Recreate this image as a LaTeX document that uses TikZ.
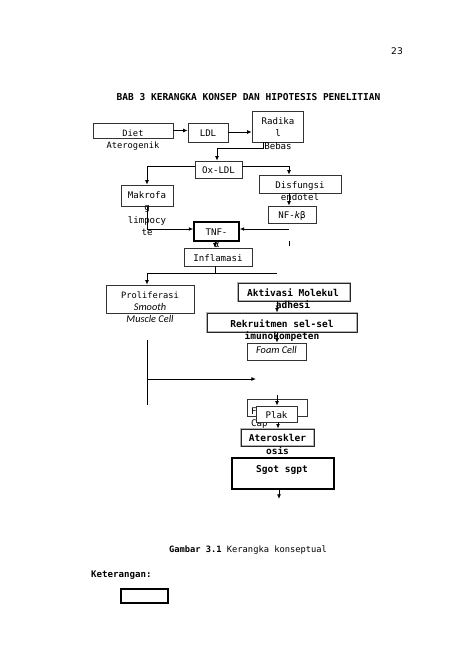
\documentclass[tikz,border=0pt]{standalone}
\usepackage{fontspec}
\setmainfont{DejaVu Sans Mono}
\newfontfamily\sansit{Carlito}
\newfontfamily\pagefont{DejaVu Sans}
\usepackage{tikz}
\usetikzlibrary{positioning,arrows.meta,calc}

\begin{document}
\begin{tikzpicture}[
  x=0.0443cm, y=-0.0443cm,
  every node/.style={font=\fontsize{11.5}{15.5}\selectfont, inner sep=0pt},
  sz/.style 2 args={minimum width=#1*0.0443cm, minimum height=#2*0.0443cm},
  box/.style={draw=black!80, line width=0.7pt},
  thickbox/.style={draw=black, line width=1.8pt},
  glowbox/.style={draw=black!85, line width=1pt, preaction={draw=black!30, line width=3.5pt}},
  txt/.style={align=center, anchor=north},
  smalltxt/.style={txt, font=\fontsize{11}{15}\selectfont},
  boldtxt/.style={txt, font=\fontsize{12}{15.5}\selectfont\bfseries},
  cell/.style={font=\fontsize{13}{15}\selectfont\sansit\itshape},
  arrow/.style={-{Latex[length=2mm,width=1.7mm]}, line width=1.1pt},
  link/.style={line width=1.1pt}
]
\useasboundingbox (0,0) rectangle (474,670);

% page heading
\node (page) at (397,51) {\pagefont 23};
\node[font=\fontsize{12}{14}\selectfont\bfseries] (title) at (248.5,97) {BAB 3 KERANGKA KONSEP DAN HIPOTESIS PENELITIAN};

% boxes
\node[box, sz={80}{15}] (diet) at (133,130.5) {};
\node[box, sz={40}{19}] (ldl) at (208,132.5) {};
\node[box, sz={51}{31}] (radikal) at (277.5,126.5) {};
\node[box, sz={47}{17}] (oxldl) at (218.5,169.5) {};
\node[box, sz={82}{18}] (disfungsi) at (300,184) {};
\node[box, sz={48}{17}] (nfkb) at (292,214.5) {};
\node[box, sz={52}{21}] (makrofag) at (147,195.5) {};
\node[thickbox, sz={45}{19}] (tnf) at (216.5,231.5) {};
\node[box, sz={68}{18}] (inflamasi) at (218,257) {};
\node[box, sz={88}{28}] (prolif) at (150,299) {};
\node[glowbox, sz={112}{18}] (aktivasi) at (294,292) {};
\node[glowbox, sz={150}{19}] (rekrut) at (282,322.5) {};
\node[box, sz={59}{17}] (foam) at (276.5,351.5) {};
\node[box, sz={60}{17}] (fibrous) at (277,407.5) {};
\node[glowbox, sz={73}{17}] (atero) at (277.5,437.5) {};
\node[glowbox, line width=2pt, draw=black, sz={102}{31}] (sgot) at (283,473.5) {};

% texts
\node[smalltxt] (t-diet) at (133,129.5) {Diet\\Aterogenik};
\node[txt] (t-ldl) at (208,129.5) {LDL};
\node[txt] (t-radikal) at (278,117.5) {Radika\\l\\Bebas};
\node[txt] (t-oxldl) at (218.5,166.5) {Ox-LDL};
\node[txt] (t-disfungsi) at (300,181.5) {Disfungsi\\endotel};
\node[txt] (t-nfkb) at (292,211.5) {NF-{\itshape k}β};
\node[txt] (t-makrofag) at (147,191.5) {Makrofa\\g\\limpocy\\te};
\node[txt] (t-tnf) at (216.5,228.5) {TNF-\\α};
\node[txt] (t-inflamasi) at (218,254.5) {Inflamasi};
\node[smalltxt] (t-prolif) at (150,291.5) {Proliferasi\\{\fontsize{13}{15}\sansit\itshape Smooth}\\{\fontsize{13}{15}\sansit\itshape Muscle Cell}};
\node[boldtxt] (t-aktivasi) at (293,288.5) {Aktivasi Molekul\\adhesi};
\node[boldtxt] (t-rekrut) at (282,319.5) {Rekruitmen sel-sel\\imunokompeten};
\node[txt, cell] (t-foam) at (276.5,346.5) {Foam Cell};
\node[txt, align=left, anchor=north west] (t-fibrous) at (251,407.5) {Fibrous\\Cap};
\node[box, fill=white, sz={41}{16}] (plak) at (276.5,414) {};
\node[txt] (t-plak) at (276.5,411) {Plak};
\node[boldtxt] (t-atero) at (277.5,434.5) {Ateroskler\\osis};
\node[boldtxt] (t-sgot) at (282,465.5) {Sgot sgpt};

% bend points
\coordinate (r1) at (263,148);
\coordinate (colR) at (289,166);
\coordinate (nfin) at (289,229);
\coordinate (tick1) at (289,241);
\coordinate (tick2) at (289,246);
\coordinate (sL) at (147,273);
\coordinate (sR) at (277,273);
\coordinate (lv1) at (147,340);
\coordinate (lv2) at (147,405);
\coordinate (lh) at (147,379);
\coordinate (lhend) at (256,379);
\coordinate (pin) at (277,395);
\coordinate (out) at (279,499);

% connectors
\draw[arrow] (diet.east) -- (diet.east -| ldl.west);
\draw[arrow] ($(ldl.east)+(0,-0.5)$) -- ($(ldl.east -| radikal.west)+(0,-0.5)$);
\draw[arrow] (radikal.south -| r1) -- (r1) -| ($(oxldl.north)+(-1.5,0)$);
\draw[arrow] ($(oxldl.west)+(0,-3)$) -| (makrofag.north);
\draw[arrow] ($(oxldl.east)+(0,-3)$) -| (colR |- disfungsi.north);
\draw[arrow] (colR |- disfungsi.south) -- (colR |- nfkb.north);
\draw[arrow] (makrofag.south) |- ($(tnf.west)+(0,-2.5)$);
\draw[arrow] (nfin) -- (nfin -| tnf.east);
\draw[link] (tick1) -- (tick2);
\draw[arrow] ($(tnf.south)+(-1.5,0)$) -- ($(tnf.south |- inflamasi.north)+(-1.5,0)$);
\draw[link] ($(inflamasi.south)+(-3,0)$) -- ($(inflamasi.south |- sL)+(-3,0)$);
\draw[link] (sR) -- (sL);
\draw[arrow] (sL) -- (sL |- prolif.north);
\draw[arrow] (sR |- aktivasi.south) -- (sR |- rekrut.north);
\draw[arrow] (sR |- rekrut.south) -- (sR |- foam.north);
\draw[link] (lv1) -- (lv2);
\draw[arrow] (lh) -- (lhend);
\draw[arrow] (pin) -- (pin |- plak.north);
\draw[arrow] ($(plak.south)+(1.5,0)$) -- ($(plak.south |- atero.north)+(1.5,0)$);
\draw[arrow] (out |- sgot.south) -- (out);

% caption and legend
\node[font=\fontsize{11}{13}\selectfont] (caption) at (248,550) {\textbf{Gambar 3.1} Kerangka konseptual};
\node[font=\fontsize{11.5}{13}\selectfont\bfseries, anchor=west] (ket) at (91,575) {Keterangan:};
\node[thickbox, sz={47}{14}] (legend) at (144.5,596) {};
\end{tikzpicture}
\end{document}
